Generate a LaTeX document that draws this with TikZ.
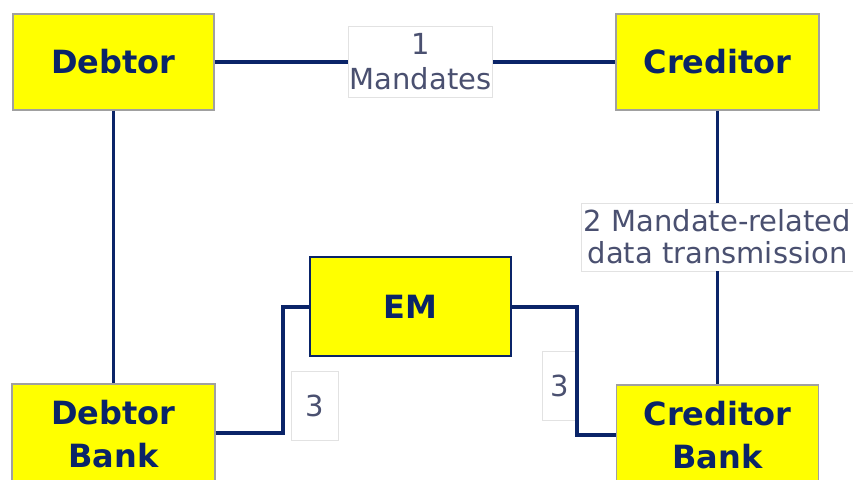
\documentclass[tikz,border=0pt]{standalone}
\usepackage{fontspec}
\setmainfont{DejaVu Sans}
\definecolor{navy}{HTML}{0A2468}
\definecolor{boxyel}{HTML}{FFFF00}
\definecolor{boxgray}{HTML}{A0A0A0}
\definecolor{lbltxt}{HTML}{4A5070}
\definecolor{lblbrd}{HTML}{E2E2E2}
\tikzset{
  party/.style={draw=boxgray, line width=1.2pt, fill=boxyel, text=navy, font=\bfseries\fontsize{32}{43}\selectfont, align=center, inner sep=0pt},
  embox/.style={draw=navy, line width=2.6pt, fill=boxyel, text=navy, font=\bfseries\fontsize{32}{43}\selectfont, align=center, inner sep=0pt},
  link/.style={draw=navy, line width=3.6pt},
  lbl/.style={draw=lblbrd, line width=0.8pt, fill=white, text=lbltxt, font=\fontsize{29}{32}\selectfont, align=center, inner sep=0pt}
}
\begin{document}
\begin{tikzpicture}[x=1pt,y=-1pt]
\useasboundingbox (0,0) rectangle (853,479);
% boxes
\node[party, minimum width=201, minimum height=96] (debtor) at (113.5,62) {Debtor};
\node[party, minimum width=203, minimum height=96] (creditor) at (717.5,62) {Creditor};
\node[party, minimum width=203, minimum height=100] (dbank) at (113.5,434) {Debtor\\Bank};
\node[party, minimum width=202, minimum height=100] (cbank) at (717.5,435) {Creditor\\Bank};
\node[embox, minimum width=201, minimum height=99] (em) at (410.5,306.5) {EM};
% label boxes
\node[lbl, minimum width=144, minimum height=71, font=\fontsize{29}{35}\selectfont] (l1) at (420.5,62) {1\\Mandates};
\node[lbl, minimum width=272, minimum height=68] (l2) at (717.5,237) {2 Mandate-related\\data transmission};
\node[lbl, minimum width=47, minimum height=69] (l3a) at (314.5,405.5) {3};
\node[lbl, minimum width=35, minimum height=69] (l3b) at (559.5,385.5) {3};
% coordinates
\coordinate (dbr) at (215,433);
\coordinate (c1) at (283,433);
\coordinate (c2) at (283,307);
\coordinate (c3) at (577,307);
\coordinate (c4) at (577,435);
% connectors
\draw[link] (debtor.east) -- (l1.west);
\draw[link] (l1.east) -- (creditor.west);
\draw[link] (debtor.south) -- (dbank.north);
\draw[link] (creditor.south) -- (l2.north);
\draw[link] (l2.south) -- (cbank.north);
\draw[link] (dbank.east |- dbr) -- (c1) -- (c2) -- (em.west |- c2);
\draw[link] (em.east |- c3) -- (c3) -- (c4) -- (cbank.west |- c4);
\end{tikzpicture}
\end{document}
